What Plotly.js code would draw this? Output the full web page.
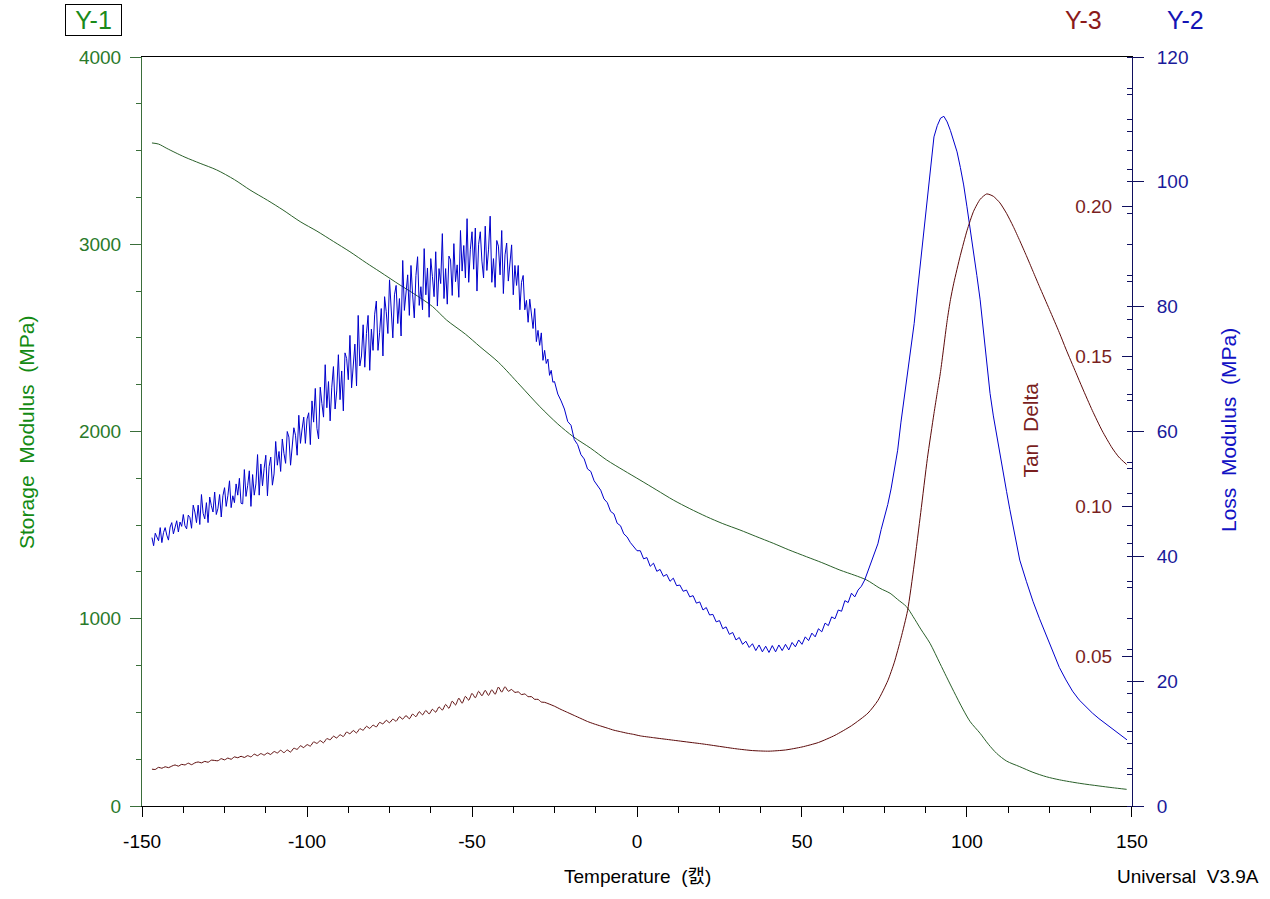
<!DOCTYPE html>
<html>
<head>
<meta charset="utf-8">
<script src="https://cdn.plot.ly/plotly-3.0.1.min.js"></script>
<style>html,body{margin:0;padding:0;background:#fff;}#chart{width:1270px;height:899px;}</style>
</head>
<body>
<div id="chart"></div>
<script>
// ---- Storage modulus (Y-1, MPa) ----
const tempStorage = [-147,-145,-142.5,-140,-137,-132.4,-127.4,-122,-117.3,-112,-107.3,-102.1,-97,-92,-87,-82,-77.9,-71.8,-67.8,-62,-57.7,-52,-47.6,-42,-35.5,-29.4,-24,-19.3,-14,-9.2,-4,0.9,6,11,16,21.1,26,31.2,36,41.3,46,51.4,56,61.5,66,69.6,73.6,76.7,79,81.7,83.7,86,88.8,91.8,93.8,96,98.9,101,104,106.5,109,112,116,120,124.1,128,134.2,140,144,148.4];
const storageModulus = [3541,3535,3512,3490,3465,3432,3397,3345,3290,3235,3183,3121,3070,3015,2960,2900,2853,2782,2738,2668,2595,2520,2453,2370,2248,2132,2040,1972,1910,1848,1792,1741,1687,1634,1588,1545,1508,1474,1440,1403,1368,1331,1300,1260,1232,1207,1163,1136,1103,1064,1011,945,869,762,690,612,513,450,388,330,281,240,210,180,156,140,121,107,98,89];

// ---- Loss modulus (Y-2, MPa) ----
const tempLoss = [
-147,-146.5,-146,-145.5,-145,-144.5,-144,-143.5,-143,-142.5,-142,-141.5,-141,-140.5,-140,-139.5,-139,-138.5,-138,-137.5,-137,-136.5,-136,-135.5,-135,
-134.5,-134,-133.5,-133,-132.5,-132,-131.5,-131,-130.5,-130,-129.5,-129,-128.5,-128,-127.5,-127,-126.5,-126,-125.5,-125,-124.5,-124,-123.5,-123,-122.5,-122,-121.5,-121,-120.5,-120,
-119.5,-119,-118.5,-118,-117.5,-117,-116.5,-116,-115.5,-115,-114.5,-114,-113.5,-113,-112.5,-112,-111.5,-111,-110.5,-110,-109.5,-109,-108.5,-108,-107.5,-107,-106.5,-106,-105.5,-105,-104.5,-104,-103.5,-103,-102.5,-102,-101.5,-101,-100.5,-100,
-99.5,-99,-98.5,-98,-97.5,-97,-96.5,-96,-95.5,-95,-94.5,-94,-93.5,-93,-92.5,-92,-91.5,-91,-90.5,-90,-89.5,-89,-88.5,-88,-87.5,-87,-86.5,-86,-85.5,-85,-84.5,-84,-83.5,-83,-82.5,-82,-81.5,-81,-80.5,-80,
-79.5,-79,-78.5,-78,-77.5,-77,-76.5,-76,-75.5,-75,-74.5,-74,-73.5,-73,-72.5,-72,-71.5,-71,-70.5,-70,-69.5,-69,-68.5,-68,-67.5,-67,-66.5,-66,-65.5,-65,-64.5,-64,-63.5,-63,-62.5,-62,-61.5,-61,-60.5,-60,
-59.5,-59,-58.5,-58,-57.5,-57,-56.5,-56,-55.5,-55,-54.5,-54,-53.5,-53,-52.5,-52,-51.5,-51,-50.5,-50,-49.5,-49,-48.5,-48,-47.5,-47,-46.5,-46,-45.5,-45,-44.5,-44,-43.5,-43,-42.5,-42,-41.5,-41,-40.5,-40,
-39.5,-39,-38.5,-38,-37.5,-37,-36.5,-36,-35.5,-35,-34.5,-34,-33.5,-33,-32.5,-32,-31.5,-31,-30.5,-30,-29.5,-29,-28.5,-28,-27.5,-27,-26.5,-26,-25.5,
-25,-24,-23,-22,-21,-20,-19,-18,-17,-16,-15,-14,-13,-12,-11,-10,-9,-8,-7,-6,-5,-4,-3,-2,-1,0,1,2,3,4,5,6,7,8,9,10,11,12,13,14,15,16,17,18,19,20,21,22,23,24,25,26,27,28,29,30,31,32,33,34,35,36,37,38,39,40,41,42,43,44,45,46,47,48,49,50,51,52,53,54,55,56,57,58,59,60,61,62,63,64,65,66,67,68,69,70,71,72,73,74,75,76,77,
78,79,80,81,82,83,84,85,86,87,88,89,90,91,92,93,94,95,96,97,98,99,100,101,102,103,104,105,106,107,108,109,110,111,112,113,114,115,116,118,120,122,124,126,128,130,132,134,136,138,140,142,144,146,148.5];
const lossModulus = [
43.0,41.7,43.7,43.1,42.5,44.6,42.2,43.8,44.6,43.4,42.6,44.7,45.4,43.6,44.5,45.7,43.9,45.5,44.8,46.7,44.9,44.4,46.6,46.2,44.5,
48.2,47.1,45.4,48.2,45.1,49.9,46.9,46.0,48.6,45.4,49.5,48.1,47.1,50.3,46.7,47.7,49.9,46.3,49.7,51.0,48.0,49.7,52.1,47.8,49.7,48.6,51.6,49.8,52.5,48.5,
48.4,53.9,49.6,51.3,53.7,48.0,53.1,49.8,51.6,56.3,49.8,54.8,51.3,54.1,56.2,49.7,54.4,55.9,51.4,53.2,58.4,54.6,56.8,53.6,58.8,56.5,54.9,60.0,59.1,54.6,57.1,60.6,59.4,56.2,62.6,58.1,60.4,62.3,58.1,62.0,
63.0,57.9,64.9,61.5,66.9,60.5,58.8,67.1,64.5,62.3,70.7,63.8,68.0,61.7,67.1,70.4,63.6,66.5,72.3,65.1,69.7,63.3,72.6,71.7,68.3,75.4,67.0,71.1,74.0,67.3,78.6,70.5,72.1,77.1,70.3,75.7,78.6,69.8,76.4,73.0,
78.8,80.9,73.0,75.9,79.7,72.1,81.6,79.2,75.7,84.3,78.6,75.0,81.9,83.4,77.3,81.3,75.3,87.4,79.4,81.8,85.1,78.6,86.6,81.9,78.2,85.0,88.0,80.2,83.2,79.5,89.3,81.9,86.2,78.3,87.7,84.8,81.6,88.8,80.1,86.1,
83.7,91.7,81.3,86.1,80.4,88.1,87.5,81.8,90.1,84.0,86.7,81.5,92.2,85.7,89.8,84.6,94.1,83.9,89.2,92.0,86.0,92.6,82.5,90.0,92.0,87.3,84.6,92.9,85.8,89.1,94.5,83.9,87.7,83.1,90.6,89.7,85.1,92.2,82.1,88.3,
90.2,84.1,87.2,89.9,81.9,86.6,83.4,86.6,79.5,83.9,85.0,79.5,81.0,77.5,81.2,79.0,76.5,79.7,74.4,76.2,73.8,75.8,71.4,73.0,70.9,71.6,69.0,69.8,67.9,
68.0,66.0,64.9,63.6,61.6,61.0,58.7,57.9,56.3,55.6,54.0,53.6,52.1,51.3,50.6,49.2,48.6,47.2,46.8,45.3,44.9,43.6,43.1,42.2,41.6,40.9,40.9,39.6,39.8,38.4,38.9,37.6,37.9,36.8,37.1,36.0,36.5,35.3,35.4,34.4,34.6,33.5,33.7,32.5,32.7,31.4,31.8,30.6,30.7,29.5,29.7,28.4,28.7,27.5,27.8,26.6,27.0,25.9,26.4,25.4,26.0,24.9,25.8,24.7,25.6,24.6,25.7,24.7,25.8,24.9,25.9,25.0,26.2,25.5,26.6,25.9,27.1,26.5,27.7,27.1,28.4,27.9,29.3,28.9,30.3,30.0,31.4,31.2,32.9,32.6,34.1,33.5,34.6,35.2,36.2,37.6,39.0,40.6,42.0,44.3,46.2,48.3,50.8,
53.8,57.0,61.5,65.5,69.5,73.3,77.3,82.5,87.5,93.0,98.0,103.0,107.2,109.0,110.2,110.5,109.6,108.2,106.5,104.8,102.3,99.5,96.0,92.5,88.8,85.0,81.1,76.2,71.0,66.1,62.5,59.3,56.4,53.4,50.4,47.5,44.6,41.9,39.4,36.0,32.8,30.0,27.4,24.8,22.2,20.2,18.4,17.0,15.9,14.9,14.0,13.2,12.3,11.5,10.6];

// ---- Tan delta (Y-3) ----
const tempTan = [-147,-146,-145,-144,-143,-142,-141,-140,-139,-138,-137,-136,-135,-134,-133,-132,-131,-130,-129,-128,-127,-126,-125,-124,-123,-122,-121,-120,-119,-118,-117,-116,-115,-114,-113,-112,-111,-110,-109,-108,-107,-106,-105,-104,-103,-102,-101,-100,-99,-98,-97,-96,-95,-94,-93,-92,-91,-90,-89,-88,-87,-86,-85,-84,-83,-82,-81,-80,-79,-78,-77,-76,-75,-74,-73,-72,-71,-70,-69,-68,-67,-66,-65,-64,-63,-62,-61,-60,-59,-58,-57,-56,-55,-54,-53,-52,-51,-50,-49,-48,-47,-46,-45,-44,-43,-42,-41,-40,-39,-38,-37,-36,-35,-34,-33,-32,-31,-30,-29,-28,
-27,-25,-23,-21,-19,-17,-15,-13,-11,-9,-7,-5,-3,-1,1,5,10,15,20,25,30,35,40,45,50,55,60,65,70,73,76,78,80,82,84,86,88,90,91,92,94,95,96,98,100,102,104,106,108,110,112,114,116,118,120,122,125,128,130,133,135,138,141,144,146,148.4];
const tanDelta = [0.0123,0.0122,0.0129,0.0126,0.0131,0.0128,0.0133,0.0137,0.0133,0.0139,0.0137,0.0143,0.0138,0.0144,0.0147,0.0144,0.0149,0.0146,0.0153,0.0152,0.0151,0.0158,0.0154,0.0160,0.0156,0.0164,0.0161,0.0166,0.0162,0.0168,0.0164,0.0173,0.0168,0.0175,0.0170,0.0177,0.0172,0.0182,0.0177,0.0186,0.0178,0.0187,0.0180,0.0193,0.0189,0.0201,0.0195,0.0205,0.0200,0.0214,0.0209,0.0218,0.0211,0.0225,0.0221,0.0233,0.0227,0.0238,0.0232,0.0247,0.0241,0.0252,0.0244,0.0258,0.0253,0.0266,0.0259,0.0270,0.0264,0.0279,0.0274,0.0286,0.0278,0.0290,0.0283,0.0298,0.0290,0.0302,0.0291,0.0307,0.0298,0.0315,0.0304,0.0319,0.0307,0.0323,0.0313,0.0331,0.0320,0.0339,0.0326,0.0350,0.0337,0.0360,0.0343,0.0366,0.0353,0.0376,0.0361,0.0383,0.0368,0.0386,0.0369,0.0388,0.0373,0.0397,0.0380,0.0398,0.0383,0.0389,0.0379,0.0381,0.0372,0.0374,0.0365,0.0365,0.0356,0.0356,0.0347,0.0346,
0.0342,0.0333,0.0322,0.0312,0.0302,0.0292,0.0282,0.0274,0.0267,0.0260,0.0253,0.0248,0.0243,0.0239,0.0234,0.0228,0.0221,0.0214,0.0207,0.0199,0.0191,0.0185,0.0183,0.0187,0.0197,0.0212,0.0236,0.0268,0.0310,0.0352,0.0418,0.0480,0.0560,0.0652,0.0805,0.0980,0.1160,0.1310,0.1380,0.1450,0.1620,0.1690,0.1745,0.1838,0.1920,0.1985,0.2025,0.2043,0.2035,0.2013,0.1978,0.1935,0.1887,0.1837,0.1785,0.1733,0.1657,0.1580,0.1525,0.1447,0.1395,0.1320,0.1252,0.1195,0.1165,0.1140];

// ---- Tick labels ----
const xTicks = [-150,-100,-50,0,50,100,150];
const y1Ticks = [0,1000,2000,3000,4000];
const y2Ticks = [0,20,40,60,80,100,120];
const y3Ticks = [0.05,0.10,0.15,0.20];
const y3TickText = ['0.05','0.10','0.15','0.20'];

const FONT = 'Liberation Sans, Arial, "Noto Sans CJK KR", sans-serif';
const GREEN_T = '#2a7a2a', GREEN_TITLE = '#138a13', GREEN_LINE = '#2a602a', GREEN_AXIS = '#3a6e3a';
const BLUE_T = '#1a1a9a', BLUE_TITLE = '#1212c4', BLUE_LINE = '#0000cc', NAVY = '#101060';
const RED_T = '#7a1f1f', RED_LINE = '#5c0a0a';

const traces = [
  {x: tempStorage, y: storageModulus, type: 'scatter', mode: 'lines', yaxis: 'y', line: {color: GREEN_LINE, width: 1, shape: 'spline', smoothing: 0.8}, hoverinfo: 'skip'},
  {x: tempLoss, y: lossModulus, type: 'scatter', mode: 'lines', yaxis: 'y2', line: {color: BLUE_LINE, width: 1}, hoverinfo: 'skip'},
  {x: tempTan, y: tanDelta, type: 'scatter', mode: 'lines', yaxis: 'y3', line: {color: RED_LINE, width: 1, shape: 'spline', smoothing: 0.6}, hoverinfo: 'skip'}
];

const nb = '\u00a0';
const layout = {
  width: 1270, height: 899,
  margin: {l: 142, r: 138, t: 57, b: 93, pad: 0},
  paper_bgcolor: '#fff', plot_bgcolor: '#fff',
  showlegend: false,
  font: {family: FONT, size: 19, color: '#000'},
  xaxis: {
    range: [-150.02, 150.02], tickvals: xTicks, ticktext: xTicks.map(String),
    ticks: 'outside', ticklen: 10, tickcolor: '#000', tickwidth: 1,
    minor: {dtick: 12.5, tick0: -150, ticks: 'outside', ticklen: 6, tickcolor: '#000', showgrid: false},
    showline: true, linecolor: '#000', linewidth: 1, mirror: true,
    showgrid: false, zeroline: false, tickfont: {size: 19, color: '#000', family: FONT},
    ticklabelstandoff: 8
  },
  yaxis: {
    range: [0, 4000], tickvals: y1Ticks, ticktext: y1Ticks.map(String),
    ticks: 'outside', ticklen: 11, tickcolor: GREEN_AXIS, tickwidth: 1,
    minor: {dtick: 250, tick0: 0, ticks: 'outside', ticklen: 5, tickcolor: GREEN_AXIS, showgrid: false},
    showline: true, linecolor: GREEN_AXIS, linewidth: 1,
    showgrid: false, zeroline: false, tickfont: {size: 19, color: GREEN_T, family: FONT},
    ticklabelstandoff: 5
  },
  yaxis2: {
    overlaying: 'y', side: 'right', anchor: 'x',
    range: [0, 120], tickvals: y2Ticks, ticktext: y2Ticks.map(String),
    ticks: 'outside', ticklen: 11, tickcolor: NAVY, tickwidth: 1,
    minor: {dtick: 5, tick0: 0, ticks: 'inside', ticklen: 5, tickcolor: NAVY, showgrid: false},
    showline: true, linecolor: NAVY, linewidth: 1,
    showgrid: false, zeroline: false, tickfont: {size: 19, color: BLUE_T, family: FONT},
    ticklabelstandoff: 9
  },
  yaxis3: {
    overlaying: 'y', side: 'left', anchor: 'free', position: 1,
    range: [0, 0.25], tickvals: y3Ticks, ticktext: y3TickText,
    ticks: 'outside', ticklen: 10, tickcolor: NAVY, tickwidth: 1,
    minor: {dtick: 0.0125, tick0: 0, ticks: 'outside', ticklen: 5, tickcolor: NAVY, showgrid: false},
    showline: false,
    showgrid: false, zeroline: false, tickfont: {size: 19, color: RED_T, family: FONT},
    ticklabelstandoff: 6
  },
  annotations: [
    {text: 'Storage' + nb + nb + 'Modulus' + nb + nb + '(MPa)', xref: 'paper', yref: 'paper', x: -0.1172, y: 0.4993, textangle: -90, showarrow: false, xanchor: 'center', yanchor: 'middle', font: {size: 21, color: GREEN_TITLE, family: FONT}},
    {text: 'Loss' + nb + nb + 'Modulus' + nb + nb + '(MPa)', xref: 'paper', yref: 'paper', x: 1.097, y: 0.502, textangle: -90, showarrow: false, xanchor: 'center', yanchor: 'middle', font: {size: 21, color: BLUE_TITLE, family: FONT}},
    {text: 'Tan' + nb + nb + 'Delta', xref: 'paper', yref: 'paper', x: 0.897, y: 0.5013, textangle: -90, showarrow: false, xanchor: 'center', yanchor: 'middle', font: {size: 21, color: RED_T, family: FONT}},
    {text: 'Temperature' + nb + nb + '(캜)', xref: 'paper', yref: 'paper', x: 0.5, y: -0.0935, showarrow: false, xanchor: 'center', yanchor: 'middle', font: {size: 19, color: '#000', family: FONT}},
    {text: 'Universal' + nb + nb + 'V3.9A', xref: 'paper', yref: 'paper', x: 1.0566, y: -0.0935, showarrow: false, xanchor: 'center', yanchor: 'middle', font: {size: 19, color: '#000', family: FONT}},
    {text: 'Y-1', xref: 'paper', yref: 'paper', x: -0.0485, y: 1.0494, showarrow: false, xanchor: 'center', yanchor: 'middle', font: {size: 25, color: '#1a8a1a', family: FONT}, bordercolor: '#000', borderwidth: 1, borderpad: 0, width: 55, height: 30},
    {text: 'Y-3', xref: 'paper', yref: 'paper', x: 0.9515, y: 1.0494, showarrow: false, xanchor: 'center', yanchor: 'middle', font: {size: 25, color: '#8b1a1a', family: FONT}},
    {text: 'Y-2', xref: 'paper', yref: 'paper', x: 1.0545, y: 1.0494, showarrow: false, xanchor: 'center', yanchor: 'middle', font: {size: 25, color: '#1414b4', family: FONT}}
  ]
};

Plotly.newPlot('chart', traces, layout, {displayModeBar: false, staticPlot: true});
</script>
</body>
</html>
